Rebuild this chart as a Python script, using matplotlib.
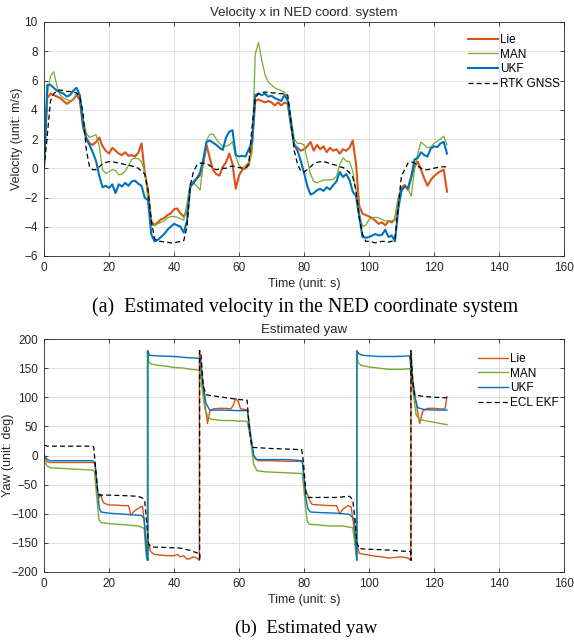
import numpy as np
import matplotlib.pyplot as plt

plt.rcParams['font.family'] = ['Liberation Sans', 'DejaVu Sans']

# ---- velocity x, sampled every second, t = 0..124 s ----
vel_t = np.arange(0, 125)

vel_lie = [0.0, 4.8, 5.1, 5.0, 4.9, 4.8, 4.6, 4.4, 4.55, 4.7, 5.0, 4.7, 2.8, 2.1, 1.7, 1.6, 1.8, 2.1, 1.5, 1.2,
           1.0, 1.4, 1.2, 1.0, 0.9, 1.1, 0.85, 0.9, 0.8, 1.05, 1.7, -0.3, -1.5, -3.6, -3.9, -3.7, -3.5, -3.4, -3.2, -3.1,
           -2.8, -2.75, -3.1, -3.3, -3.0, -1.25, -0.9, -0.7, -0.5, 0.3, 1.6, 0.7, -0.1, -0.4, -0.5, 0.1, 0.4, 1.0, 0.3, -1.4,
           -0.5, -0.1, 0.0, 0.2, 1.5, 4.6, 4.7, 4.6, 4.5, 4.6, 4.5, 4.3, 4.5, 4.3, 4.5, 4.4, 2.9, 1.6, 1.4, 1.2,
           1.3, 1.5, 1.8, 1.2, 1.6, 1.3, 1.5, 1.1, 1.4, 1.2, 1.3, 1.0, 1.3, 1.2, 1.4, 1.9, 0.3, -2.6, -3.1, -3.2,
           -3.3, -3.4, -3.6, -3.8, -3.7, -3.9, -3.6, -3.7, -3.5, -2.2, -1.3, -1.15, -1.5, -0.6, 0.1, 0.45, -0.1, -0.7, -1.2, -0.8,
           -0.55, -0.35, -0.2, -0.1, -1.6]

vel_man = [0.0, 5.0, 6.3, 6.6, 5.6, 5.0, 4.8, 4.7, 4.6, 4.7, 5.1, 5.0, 3.4, 2.4, 2.1, 2.2, 2.3, 1.5, -0.1, -0.35,
           -0.25, -0.1, -0.15, -0.45, -0.4, -0.2, 0.2, 0.6, 0.7, 0.65, 0.45, -0.2, -2.2, -3.9, -3.9, -3.8, -3.7, -3.6, -3.4, -3.3,
           -3.3, -3.35, -3.45, -3.55, -2.4, -1.0, -1.0, -1.2, -1.5, 0.3, 1.9, 2.3, 2.35, 2.0, 1.7, 1.5, 1.5, 1.6, 1.8, 0.8,
           0.2, 0.0, 0.2, 0.4, 1.0, 7.8, 8.6, 7.4, 6.4, 5.9, 5.7, 5.5, 5.4, 5.3, 5.2, 4.8, 3.5, 2.0, 1.7, 1.7,
           1.6, 0.6, -0.4, -0.9, -1.0, -0.9, -0.8, -0.8, -0.8, -0.75, -0.55, 0.25, 0.7, 0.5, 0.45, -0.2, -1.5, -3.0, -4.0, -3.9,
           -3.5, -3.4, -3.35, -3.4, -3.5, -3.6, -3.6, -3.6, -3.5, -2.0, -1.6, -1.25, -1.4, -1.9, -0.1, 1.0, 1.8, 1.6, 1.4, 1.45,
           1.7, 1.85, 2.0, 2.2, 1.6]

vel_ukf = [0.0, 5.7, 5.7, 5.5, 5.3, 5.2, 5.1, 4.9, 5.0, 5.3, 5.5, 5.0, 3.1, 2.0, 1.6, 1.1, 0.5, -0.5, -1.3, -1.2,
           -1.35, -1.1, -1.7, -1.1, -1.25, -1.0, -1.2, -0.9, -0.85, -1.05, -1.2, -2.0, -2.2, -4.5, -5.0, -4.9, -4.7, -4.5, -4.2, -4.0,
           -3.8, -3.9, -4.0, -4.4, -3.6, -1.3, -1.0, -0.7, -0.3, 0.6, 1.8, 1.9, 1.75, 1.6, 1.4, 1.25, 2.1, 2.5, 2.6, 0.9,
           0.8, 0.85, 0.8, 1.3, 1.8, 5.0, 5.1, 5.0, 5.1, 4.9, 4.95, 4.8, 4.7, 4.6, 5.0, 4.6, 3.0, 1.6, 1.2, 0.5,
           -0.3, -1.2, -1.8, -1.7, -1.5, -1.4, -1.55, -1.3, -1.45, -1.15, -0.9, -0.25, -0.6, -0.4, -0.8, -1.6, -1.9, -3.3, -4.7, -4.75,
           -4.7, -4.6, -4.5, -4.6, -4.55, -4.2, -4.7, -4.6, -5.0, -2.8, -1.5, -1.25, -1.35, -0.6, 0.6, 0.7, 1.1, 0.9, 0.8, 1.35,
           1.5, 1.45, 1.7, 1.8, 1.0]

vel_rtk = [0.0, 2.2, 4.6, 5.1, 5.3, 5.35, 5.3, 5.25, 5.25, 5.2, 5.15, 4.9, 3.8, 1.3, 0.1, -0.1, -0.1, 0.1, 0.3, 0.4,
           0.45, 0.45, 0.4, 0.35, 0.3, 0.25, 0.2, 0.15, 0.1, 0.0, -0.2, -0.4, -1.5, -3.6, -4.8, -5.0, -5.0, -5.05, -5.05, -5.1,
           -5.1, -5.05, -5.0, -4.95, -4.0, -1.2, -0.2, 0.2, 0.35, 0.35, 0.3, 0.2, 0.0, -0.1, -0.05, 0.0, 0.0, 0.1, 0.15, 0.1,
           0.05, 0.0, 0.0, 0.3, 2.8, 4.8, 5.1, 5.2, 5.2, 5.2, 5.15, 5.15, 5.1, 5.1, 5.1, 5.0, 3.2, 1.2, 0.3, -0.2,
           -0.25, -0.1, 0.1, 0.3, 0.4, 0.45, 0.45, 0.4, 0.3, 0.25, 0.2, 0.1, 0.05, -0.1, -0.3, -0.6, -1.5, -3.4, -4.5, -5.0,
           -5.0, -5.05, -5.1, -5.05, -5.0, -5.0, -5.05, -5.0, -4.8, -2.6, -0.5, -0.1, 0.35, 0.45, 0.35, 0.15, 0.0, -0.1, -0.1, -0.05,
           0.0, 0.05, 0.1, 0.1, 0.1]

# ---- yaw (deg), breakpoints ----
yaw_lie_t = [0, 1, 2, 5, 10, 15, 15.6, 16.4, 17.0, 17.4, 18.0, 18.5, 20, 22, 24, 26, 26.7, 27.7, 29.2, 30.3,
             30.8, 31.8, 32.3, 32.8, 34, 36, 38, 40, 41, 42, 43, 44, 45, 46, 47, 47.8, 47.8, 48.3, 49, 50.3,
             51, 52, 54, 56, 57.5, 58.2, 59, 59.8, 60.5, 62, 62.6, 63.5, 64.3, 65, 66, 70, 75, 79, 79.5, 80.5,
             81.2, 81.8, 82.5, 85, 88, 90, 91, 92, 93.5, 94.5, 95.3, 96, 96.5, 97, 100, 102, 104, 106, 108, 110,
             112, 112.9, 112.9, 113.5, 114.5, 115.6, 116.5, 118, 120, 122, 123.4, 124]
yaw_lie = [-2, -11, -12, -12, -12, -12, -14, -62, -72, -66, -78, -82, -85, -85, -86, -86, -102, -96, -90, -87,
           -111, -168, -153, -165, -170, -171, -172, -172, -170, -174, -172, -178, -177, -174, -176, -180, 180, 150, 110, 55,
           76, 80, 81, 81, 80, 86, 98, 92, 80, 79, 78, 35, 5, -6, -9, -9, -10, -10, -12, -60,
           -68, -78, -84, -85, -86, -86, -100, -92, -86, -88, -120, -162, -156, -168, -171, -173, -174, -176, -175, -174,
           -176, -180, 180, 130, 90, 55, 76, 81, 81, 80, 80, 101]

yaw_man_t = [0, 1, 2, 8, 15, 15.5, 16.9, 17.6, 20, 25, 29, 30.8, 31.5, 31.8, 31.8, 32.3, 33, 35, 38, 40,
             43, 45, 47, 48, 48.5, 49.5, 50.5, 51.5, 55, 58, 60, 62.5, 63.5, 64.5, 65.5, 68, 72, 76, 79.5, 80.5,
             81, 81.5, 84, 88, 92, 95, 95.8, 96.2, 96.2, 96.6, 97.5, 100, 103, 106, 110, 112.5, 113, 113.8, 114.5, 115.5,
             117, 120, 122, 124]
yaw_man = [-8, -18, -21, -23, -25, -28, -110, -115, -117, -119, -121, -125, -175, -180, 180, 160, 157, 155, 153, 151,
           150, 148, 147, 146, 120, 80, 66, 62, 60, 60, 59, 59, 30, -15, -26, -28, -29, -30, -31, -90,
           -112, -118, -119, -121, -121, -124, -160, -180, 180, 160, 155, 152, 150, 148, 148, 149, 140, 100, 70, 62,
           60, 57, 55, 53]

yaw_ukf_t = [0, 1, 2, 8, 15, 15.7, 17.0, 17.5, 20, 25, 30, 30.8, 31.6, 32.0, 32.0, 32.4, 35, 40, 44, 47.5,
             48.2, 48.8, 49.8, 51, 55, 60, 62.6, 63.5, 64.5, 65.5, 70, 75, 79.5, 80.5, 81.2, 82, 85, 90, 94, 95.5,
             96.3, 96.3, 96.8, 98, 103, 108, 112.5, 113.3, 114.2, 115, 117, 120, 124]
yaw_ukf = [1, -7, -9, -9, -9, -12, -90, -97, -99, -101, -103, -108, -170, -180, 180, 172, 171, 170, 168, 167,
           165, 130, 90, 78, 78, 77, 77, 40, 0, -7, -7, -7, -9, -70, -92, -97, -98, -99, -101, -110,
           -180, 180, 175, 172, 170, 170, 171, 130, 98, 82, 79, 78, 78]

yaw_ekf_t = [0, 1, 15, 15.3, 16.5, 17.0, 20, 25, 29, 30.3, 31.0, 31.5, 32.2, 33, 38, 42, 45, 47, 47.9, 47.9,
             47.9, 48.3, 49, 50, 55, 60, 62.5, 63.2, 64, 70, 75, 79.3, 79.8, 80.6, 81.2, 85, 90, 94, 95, 95.7,
             96.3, 97, 100, 105, 110, 112.8, 112.9, 112.9, 113.4, 114, 116, 120, 124]
yaw_ekf = [18, 16, 16, 14, -60, -68, -68, -69, -70, -73, -78, -110, -152, -157, -158, -159, -163, -167, -168, -180,
           180, 175, 118, 104, 100, 96, 95, 44, 14, 12, 11, 10, -10, -66, -72, -72, -72, -70, -76, -110,
           -150, -160, -161, -162, -164, -165, -180, 180, 130, 104, 102, 100, 99]

c_lie = '#D95319'
c_man = '#77AC30'
c_ukf = '#0072BD'
dark = '#262626'

fig = plt.figure(figsize=(5.74, 6.43), dpi=100)
ax1 = fig.add_axes([44/574, 1-256/643, 520/574, 234/643])
ax2 = fig.add_axes([44/574, 1-572/643, 520/574, 233/643])


def style(ax):
    ax.grid(True, color='#dcdcdc', linewidth=0.6)
    ax.set_axisbelow(True)
    ax.tick_params(direction='in', top=True, right=True, labelsize=8.5,
                   colors=dark, length=3, width=0.6, pad=4.5)
    for s in ax.spines.values():
        s.set_color(dark)
        s.set_linewidth(0.6)
    ax.set_xlim(0, 160)
    ax.set_xticks(np.arange(0, 161, 20))


ax1.plot(vel_t, vel_lie, color=c_lie, lw=1.5, label='Lie')
ax1.plot(vel_t, vel_man, color=c_man, lw=0.9, label='MAN')
ax1.plot(vel_t, vel_ukf, color=c_ukf, lw=1.5, label='UKF')
ax1.plot(vel_t, vel_rtk, color='k', lw=0.9, ls=(0, (4, 2.5)), label='RTK GNSS')
style(ax1)
ax1.set_ylim(-6, 10)
ax1.set_yticks(np.arange(-6, 11, 2))
ax1.set_title('Velocity x in NED coord. system', fontsize=9.5, color=dark, pad=4)
ax1.set_xlabel('Time (unit: s)', fontsize=9, color=dark, labelpad=3)
ax1.set_ylabel('Velocity (unit: m/s)', fontsize=9, color=dark)
ax1.yaxis.set_label_coords(-21/520, 0.5)
ax1.legend(loc='upper left', bbox_to_anchor=(468/574, 1-34/643), bbox_transform=fig.transFigure,
           frameon=False, fontsize=8.5, handlelength=2.5, handletextpad=0.2, labelspacing=0.22,
           borderpad=0, borderaxespad=0)

ax2.plot(yaw_lie_t, yaw_lie, color=c_lie, lw=1.0, label='Lie')
ax2.plot(yaw_man_t, yaw_man, color=c_man, lw=1.0, label='MAN')
ax2.plot(yaw_ukf_t, yaw_ukf, color=c_ukf, lw=1.0, label='UKF')
ax2.plot(yaw_ekf_t, yaw_ekf, color='k', lw=0.9, ls=(0, (4, 2.5)), label='ECL EKF')
style(ax2)
ax2.set_ylim(-200, 200)
ax2.set_yticks(np.arange(-200, 201, 50))
ax2.set_title('Estimated yaw', fontsize=9.5, color=dark, pad=4)
ax2.set_xlabel('Time (unit: s)', fontsize=9, color=dark, labelpad=3)
ax2.set_ylabel('Yaw (unit: deg)', fontsize=9, color=dark)
ax2.yaxis.set_label_coords(-30/520, 0.5)
ax2.legend(loc='upper left', bbox_to_anchor=(478/574, 1-353/643), bbox_transform=fig.transFigure,
           frameon=False, fontsize=8.5, handlelength=2.5, handletextpad=0.2, labelspacing=0.22,
           borderpad=0, borderaxespad=0)

fig.text(305/574, 1-307/643, '(a)  Estimated velocity in the NED coordinate system',
         ha='center', va='center', fontsize=14.3, family='Liberation Serif')
fig.text(306/574, 1-628/643, '(b)  Estimated yaw',
         ha='center', va='center', fontsize=13.5, family='Liberation Serif')

fig.savefig('out.png', dpi=100)
